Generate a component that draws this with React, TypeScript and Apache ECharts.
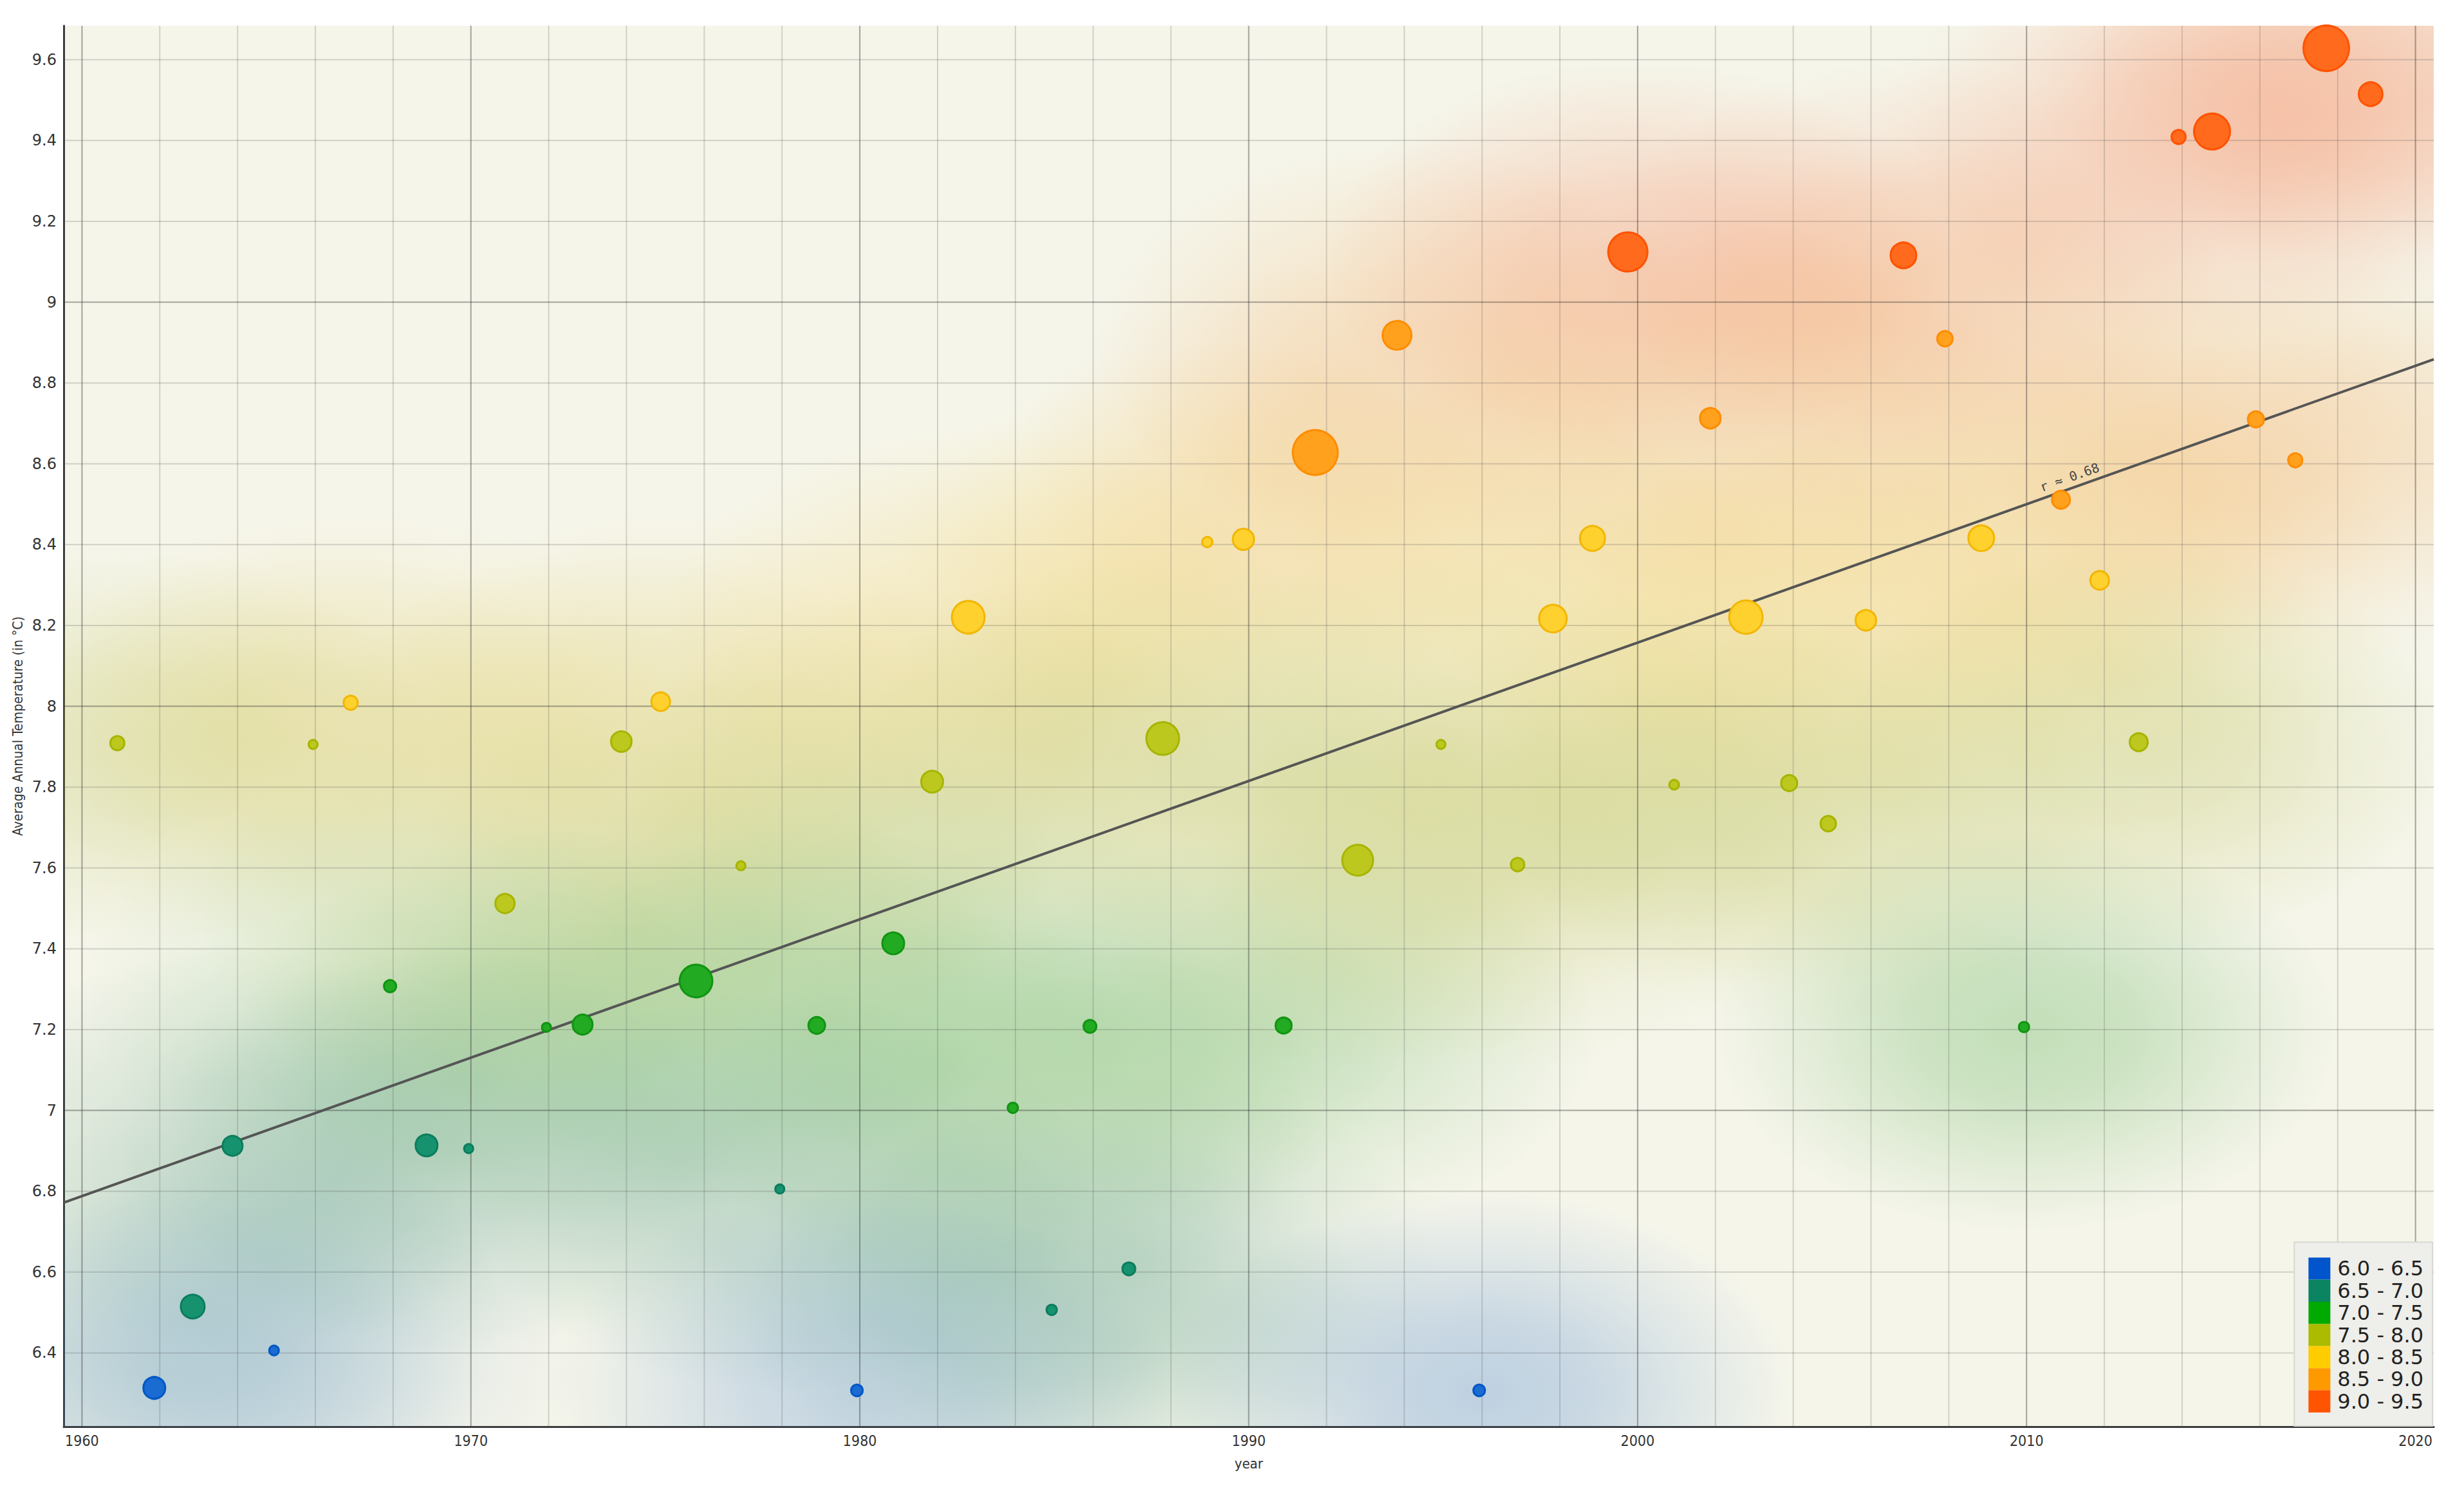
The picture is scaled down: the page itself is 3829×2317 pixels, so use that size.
import React, { useEffect, useRef } from "react";
import * as echarts from "echarts";

// ---------- data ----------
const years = [
  1961, 1962, 1963, 1964, 1965, 1966, 1967, 1968, 1969, 1970,
  1971, 1972, 1973, 1974, 1975, 1976, 1977, 1978, 1979, 1980,
  1981, 1982, 1983, 1984, 1985, 1986, 1987, 1988, 1989, 1990,
  1991, 1992, 1993, 1994, 1995, 1996, 1997, 1998, 1999, 2000,
  2001, 2002, 2003, 2004, 2005, 2006, 2007, 2008, 2009, 2010,
  2011, 2012, 2013, 2014, 2015, 2016, 2017, 2018, 2019,
];
const temperatures = [
  7.9, 6.3, 6.5, 6.9, 6.4, 7.9, 8.0, 7.3, 6.9, 6.9,
  7.5, 7.2, 7.2, 7.9, 8.0, 7.3, 7.6, 6.8, 7.2, 6.3,
  7.4, 7.8, 8.2, 7.0, 6.5, 7.2, 6.6, 7.9, 8.4, 8.4,
  7.2, 8.6, 7.6, 8.9, 7.9, 6.3, 7.6, 8.2, 8.4, 9.1,
  7.8, 8.7, 8.2, 7.8, 7.7, 8.2, 9.1, 8.9, 8.4, 7.2,
  8.5, 8.3, 7.9, 9.4, 9.4, 8.7, 8.6, 9.6, 9.5,
];
const bubbleValues = [
  24, 36, 39, 33, 17, 16, 24, 21, 36, 16,
  32, 16, 33, 34, 31, 53, 16, 16, 28, 20,
  36, 36, 53, 18, 18, 22, 22, 53, 18, 35,
  27, 72, 50, 47, 16, 20, 23, 45, 41, 63,
  17, 34, 54, 27, 26, 34, 42, 26, 42, 18,
  30, 31, 30, 24, 58, 27, 24, 73, 39,
];

const binEdges = [6.0, 6.5, 7.0, 7.5, 8.0, 8.5, 9.0, 9.5];
const binLabels = ["6.0 - 6.5", "6.5 - 7.0", "7.0 - 7.5", "7.5 - 8.0", "8.0 - 8.5", "8.5 - 9.0", "9.0 - 9.5"];

const xGridValues = [
  1960, 1962, 1964, 1966, 1968, 1970, 1972, 1974, 1976, 1978,
  1980, 1982, 1984, 1986, 1988, 1990, 1992, 1994, 1996, 1998,
  2000, 2002, 2004, 2006, 2008, 2010, 2012, 2014, 2016, 2018, 2020,
];
const yGridValues = [6.4, 6.6, 6.8, 7.0, 7.2, 7.4, 7.6, 7.8, 8.0, 8.2, 8.4, 8.6, 8.8, 9.0, 9.2, 9.4, 9.6];
const rLabelText = "r \u2248 0.68";

// ---------- styles ----------
const binColors = ["#0055cc", "#0b8462", "#00aa00", "#aabb00", "#ffcc00", "#ff9900", "#ff5500"];
const blobColors = ["#2a6fc9", "#1f7d62", "#3aa033", "#a9b020", "#f2c43a", "#f59a3a", "#f7602a"];
const markerFill = ["#1a6bd2", "#17926f", "#22aa22", "#bcc81e", "#ffd12e", "#ffa11c", "#ff6a1c"];
const markerStroke = ["#0057c4", "#0b7d5c", "#119411", "#a6b400", "#f2b600", "#ff8c00", "#ff5200"];

const X_MIN = 1959.53;
const X_MAX = 2020.47;
const Y_MIN = 6.2175;
const Y_MAX = 9.684;
const BLOB_RX = 8.0; // years
const BLOB_RY = 0.5; // degrees
const BLOB_ALPHA = 0.27;
const R_LABEL_YEAR = 2011.2;

function binIndex(t: number): number {
  for (let i = binEdges.length - 2; i >= 0; i--) {
    if (t >= binEdges[i] - 1e-9) return i;
  }
  return 0;
}

function rgba(hex: string, a: number): string {
  const n = parseInt(hex.slice(1), 16);
  return `rgba(${(n >> 16) & 255},${(n >> 8) & 255},${n & 255},${a})`;
}

function regression(xs: number[], ys: number[]) {
  const n = xs.length;
  const mx = xs.reduce((s, v) => s + v, 0) / n;
  const my = ys.reduce((s, v) => s + v, 0) / n;
  let sxy = 0;
  let sxx = 0;
  for (let i = 0; i < n; i++) {
    sxy += (xs[i] - mx) * (ys[i] - my);
    sxx += (xs[i] - mx) * (xs[i] - mx);
  }
  const b = sxy / sxx;
  const a = my - b * mx;
  return { a, b };
}

// local density of observations, used to keep the blended background even
function localDensity(i: number): number {
  let s = 0;
  for (let j = 0; j < years.length; j++) {
    const dx = (years[j] - years[i]) / BLOB_RX;
    const dy = (temperatures[j] - temperatures[i]) / BLOB_RY;
    const d2 = dx * dx + dy * dy;
    if (d2 < 1) s += (1 - d2) * (1 - d2);
  }
  return s;
}

export default function App() {
  const ref = useRef<HTMLDivElement>(null);

  useEffect(() => {
    if (!ref.current) return;
    const chart = echarts.init(ref.current, undefined, { renderer: "svg" });
    const { a, b } = regression(years, temperatures);
    const regY = (x: number) => a + b * x;
    const densities = years.map((_, i) => localDensity(i));

    const option: any = {
      animation: false,
      backgroundColor: "#ffffff",
      grid: {
        left: 99,
        right: 47,
        top: 40,
        bottom: 100,
        show: true,
        backgroundColor: "#f5f5ea",
        borderWidth: 0,
        containLabel: false,
      },
      xAxis: {
        type: "value",
        min: X_MIN,
        max: X_MAX,
        splitNumber: 5,
        name: "year",
        nameLocation: "middle",
        nameGap: 46,
        nameTextStyle: {
          fontSize: 22,
          color: "#333",
          fontFamily: "'DejaVu Sans Condensed', 'DejaVu Sans', sans-serif",
        },
        axisLine: { onZero: false, lineStyle: { color: "#3c3c3c", width: 3 } },
        axisTick: { show: false },
        splitLine: { show: false },
        axisLabel: {
          margin: 10,
          fontSize: 23,
          color: "#333",
          fontFamily: "'DejaVu Sans Condensed', 'DejaVu Sans', sans-serif",
          formatter: (v: number) => {
            const r = Math.round(v);
            return Math.abs(v - r) < 1e-6 && r % 10 === 0 ? String(r) : "";
          },
        },
      },
      yAxis: {
        type: "value",
        min: Y_MIN,
        max: Y_MAX,
        splitNumber: 17,
        name: "Average Annual Temperature (in \u00b0C)",
        nameLocation: "middle",
        nameGap: 58,
        nameTextStyle: {
          fontSize: 21,
          color: "#333",
          fontFamily: "'DejaVu Sans Condensed', 'DejaVu Sans', sans-serif",
        },
        axisLine: { onZero: false, lineStyle: { color: "#3c3c3c", width: 3 } },
        axisTick: { show: false },
        splitLine: { show: false },
        axisLabel: {
          margin: 11,
          fontSize: 24,
          color: "#333",
          fontFamily: "'DejaVu Sans', sans-serif",
          formatter: (v: number) => {
            const r = Math.round(v * 10) / 10;
            if (Math.abs(v - r) > 1e-6) return "";
            if (Math.round(r * 10) % 2 !== 0) return "";
            return String(r);
          },
        },
      },
      visualMap: {
        type: "piecewise",
        seriesIndex: 0,
        dimension: 1,
        pieces: binLabels.map((label, i) => {
          const last = i === binLabels.length - 1;
          return last
            ? { gte: binEdges[i], lte: 20, label, color: binColors[i] }
            : { gte: binEdges[i], lt: binEdges[i + 1], label, color: binColors[i] };
        }),
        orient: "vertical",
        inverse: true,
        right: 48,
        bottom: 100,
        itemWidth: 34,
        itemHeight: 34.4,
        itemGap: 0,
        itemSymbol: "rect",
        textGap: 11,
        align: "left",
        padding: [24, 14, 21, 22],
        backgroundColor: "#eeeeea",
        borderColor: "#d9d9d3",
        borderWidth: 2,
        selectedMode: false,
        hoverLink: false,
        textStyle: { fontSize: 32, color: "#222", fontFamily: "'DejaVu Sans', sans-serif" },
        z: 20,
      },
      series: [
        // 0: smooth background field (soft blobs around each observation)
        {
          type: "custom",
          z: 1,
          silent: true,
          clip: true,
          encode: { x: 0, y: 1 },
          data: years.map((y, i) => [y, temperatures[i], i]),
          renderItem: (params: any, api: any) => {
            const x = api.value(0);
            const t = api.value(1);
            const idx = params.dataIndex;
            const c = api.coord([x, t]);
            const sz = api.size([BLOB_RX, BLOB_RY]);
            const col = blobColors[binIndex(t)];
            const al = Math.min(0.34, BLOB_ALPHA / Math.pow(densities[idx], 0.8));
            return {
              type: "circle",
              x: c[0],
              y: c[1],
              scaleX: sz[0] / sz[1],
              shape: { cx: 0, cy: 0, r: sz[1] },
              style: {
                fill: new echarts.graphic.RadialGradient(0.5, 0.5, 0.5, [
                  { offset: 0, color: rgba(col, al) },
                  { offset: 0.35, color: rgba(col, al * 0.8) },
                  { offset: 0.7, color: rgba(col, al * 0.35) },
                  { offset: 1, color: rgba(col, 0) },
                ]),
              },
            };
          },
        },
        // 1: vertical grid lines
        {
          type: "custom",
          z: 2,
          silent: true,
          encode: { x: 0, y: 1 },
          data: xGridValues.map((v) => [v, Y_MIN]),
          renderItem: (params: any, api: any) => {
            const v = api.value(0);
            const p = api.coord([v, Y_MIN]);
            const cs = params.coordSys;
            const major = Math.round(v) % 10 === 0;
            return {
              type: "line",
              shape: { x1: p[0], y1: cs.y, x2: p[0], y2: cs.y + cs.height },
              style: {
                stroke: major ? "rgba(50,50,50,0.42)" : "rgba(80,80,80,0.22)",
                lineWidth: 2,
              },
            };
          },
        },
        // 2: horizontal grid lines
        {
          type: "custom",
          z: 2,
          silent: true,
          encode: { x: 0, y: 1 },
          data: yGridValues.map((v) => [X_MIN, v]),
          renderItem: (params: any, api: any) => {
            const v = api.value(1);
            const p = api.coord([X_MIN, v]);
            const cs = params.coordSys;
            const major = Math.abs(v - Math.round(v)) < 1e-6;
            return {
              type: "line",
              shape: { x1: cs.x, y1: p[1], x2: cs.x + cs.width, y2: p[1] },
              style: {
                stroke: major ? "rgba(50,50,50,0.42)" : "rgba(80,80,80,0.22)",
                lineWidth: 2,
              },
            };
          },
        },
        // 3: regression line
        {
          type: "line",
          z: 3,
          silent: true,
          symbol: "none",
          data: [
            [X_MIN, regY(X_MIN)],
            [X_MAX, regY(X_MAX)],
          ],
          lineStyle: { color: "#555555", width: 4 },
        },
        // 4: bubbles
        {
          type: "scatter",
          z: 4,
          data: years.map((y, i) => {
            const s = bubbleValues[i] - 2;
            const bi = binIndex(temperatures[i]);
            return {
              value: [y, temperatures[i]],
              symbolSize: s,
              symbolOffset: [-s / 4, -s / 4],
              itemStyle: {
                color: markerFill[bi],
                borderColor: markerStroke[bi],
                borderWidth: 3,
                opacity: 1,
              },
            };
          }),
        },
        // 5: r label along the regression line
        {
          type: "custom",
          z: 5,
          silent: true,
          encode: { x: 0, y: 1 },
          data: [[R_LABEL_YEAR, regY(R_LABEL_YEAR)]],
          renderItem: (params: any, api: any) => {
            const x = api.value(0);
            const p = api.coord([x, regY(x)]);
            const p2 = api.coord([x + 1, regY(x + 1)]);
            const ang = -Math.atan2(p2[1] - p[1], p2[0] - p[0]);
            const off = 7;
            return {
              type: "text",
              x: p[0] - Math.sin(ang) * off,
              y: p[1] - Math.cos(ang) * off,
              rotation: ang,
              style: {
                text: rLabelText,
                fill: "#444",
                fontSize: 20,
                fontFamily: "'DejaVu Sans Mono', monospace",
                align: "center",
                verticalAlign: "bottom",
              },
            };
          },
        },
      ],
    };

    chart.setOption(option);
    return () => {
      chart.dispose();
    };
  }, []);

  return (
    <div
      ref={ref}
      style={{ position: "absolute", left: 0, top: 0, width: 3829, height: 2317, background: "#fff" }}
    />
  );
}
